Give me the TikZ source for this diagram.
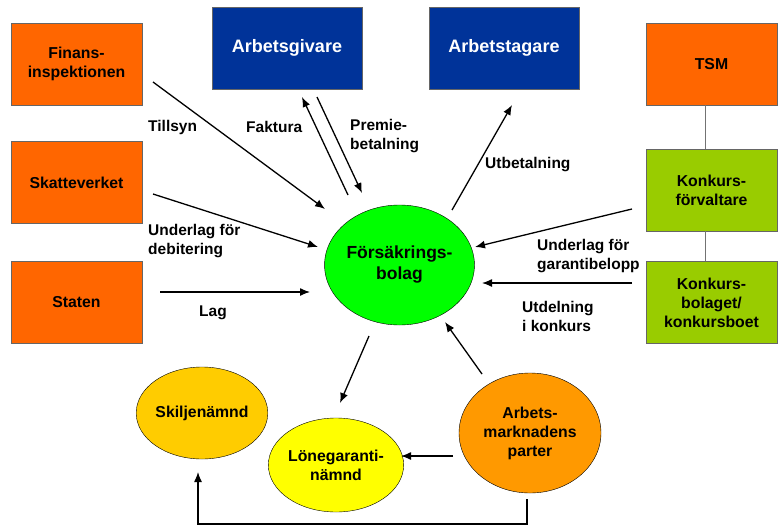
\documentclass[tikz,border=0pt]{standalone}
\usepackage{fontspec}
\setmainfont{Liberation Sans}
\usepackage{tikz}
\usetikzlibrary{arrows.meta}
\usetikzlibrary{shapes.geometric}
\definecolor{boxorange}{HTML}{FF6600}
\definecolor{boxblue}{HTML}{003399}
\definecolor{boxlime}{HTML}{99CC00}
\definecolor{fbgreen}{HTML}{00FF00}
\definecolor{sjyellow}{HTML}{FFCC00}
\definecolor{lgyellow}{HTML}{FFFF00}
\definecolor{amorange}{HTML}{FF9900}
\tikzset{
  box/.style={draw=black!60, minimum width=131pt, minimum height=82pt, inner sep=0pt, align=center, font=\bfseries\fontsize{15.8}{19}\selectfont},
  bluebox/.style={box, fill=boxblue, text=white, minimum width=150pt, font=\bfseries\fontsize{18}{20}\selectfont},
  oval/.style={ellipse, draw=black, inner sep=0pt, align=center, font=\bfseries\fontsize{15.8}{19}\selectfont},
  lbl/.style={anchor=west, align=left, inner sep=0pt, font=\bfseries\fontsize{15.5}{19}\selectfont},
  arr/.style={black, line width=1.3pt, -{Latex[length=10pt,width=8pt]}}
}
\begin{document}
\begin{tikzpicture}[x=1pt,y=-1pt]
\useasboundingbox (0,0) rectangle (781,527);

% boxes left
\node[box, fill=boxorange] (fi) at (76.5,64) {Finans-\\inspektionen};
\node[box, fill=boxorange] (sv) at (76.5,182.5) {Skatteverket};
\node[box, fill=boxorange] (st) at (76.5,302.5) {Staten};
% boxes top
\node[bluebox] (ag) at (287,48) {Arbetsgivare};
\node[bluebox] (at) at (504,48) {Arbetstagare};
% boxes right
\node[box, fill=boxorange] (tsm) at (711.5,64) {TSM};
\node[box, fill=boxlime] (kf) at (711.5,190) {Konkurs-\\förvaltare};
\node[box, fill=boxlime] (kb) at (711.5,302.5) {Konkurs-\\bolaget/\\konkursboet};
\draw[black!55, line width=1.5pt] ([xshift=-6pt]tsm.south) -- ([xshift=-6pt]kf.north)
  ([xshift=-6pt]kf.south) -- ([xshift=-6pt]kb.north);

% ellipses
\node[oval, fill=fbgreen, minimum width=149pt, minimum height=120pt, font=\bfseries\fontsize{17.5}{21}\selectfont] (fb) at (399.5,265) {Försäkrings-\\bolag};
\node[oval, fill=sjyellow, minimum width=112pt, minimum height=92pt] (sj) at (202,413) {Skiljenämnd};
\node[oval, fill=lgyellow, minimum width=114pt, minimum height=94pt] (lg) at (336,465) {Lönegaranti-\\nämnd};
\node[oval, fill=amorange, minimum width=142pt, minimum height=120pt] (am) at (530,433) {Arbets-\\marknadens\\parter};

% arrow ends
\coordinate (fi1) at (153,82);   \coordinate (fi2) at (325,209);
\coordinate (sv1) at (153,194);  \coordinate (sv2) at (318,247);
\coordinate (st1) at (160,292);  \coordinate (st2) at (310,292);
\coordinate (fa1) at (348,195);  \coordinate (fa2) at (302,97);
\coordinate (pb1) at (317,97);   \coordinate (pb2) at (362,193);
\coordinate (ub1) at (452,210);  \coordinate (ub2) at (512,105);
\coordinate (kf1) at (632,209);  \coordinate (kf2) at (475,247);
\coordinate (kb1) at (632,283);  \coordinate (kb2) at (482,283);
\coordinate (fb1) at (369,336);  \coordinate (fb2) at (340,403);
\coordinate (am1) at (482,374);  \coordinate (am2) at (445,322);
\coordinate (am3) at (453,456);  \coordinate (am4) at (401,456);
\coordinate (am5) at (527,499);  \coordinate (sj1) at (198,472);

\draw[arr] (fi1) -- (fi2);
\draw[arr] (sv1) -- (sv2);
\draw[arr] (st1) -- (st2);
\draw[arr] (fa1) -- (fa2);
\draw[arr] (pb1) -- (pb2);
\draw[arr] (ub1) -- (ub2);
\draw[arr] (kf1) -- (kf2);
\draw[arr] (kb1) -- (kb2);
\draw[arr] (fb1) -- (fb2);
\draw[arr] (am1) -- (am2);
\draw[arr] (am3) -- (am4);
\draw[arr] (am5) -- (527,524) -| (sj1);

% labels
\node[lbl] (tillsyn) at (148,127) {Tillsyn};
\node[lbl] (faktura) at (246,127) {Faktura};
\node[lbl] (premie) at (350,136.5) {Premie-\\betalning};
\node[lbl] (debit) at (148,241) {Underlag för\\debitering};
\node[lbl] (lag) at (199,313) {Lag};
\node[lbl] (utbet) at (485,165) {Utbetalning};
\node[lbl] (garanti) at (537,256.5) {Underlag för\\garantibelopp};
\node[lbl] (utdel) at (522,316.5) {Utdelning\\i konkurs};
\end{tikzpicture}
\end{document}
